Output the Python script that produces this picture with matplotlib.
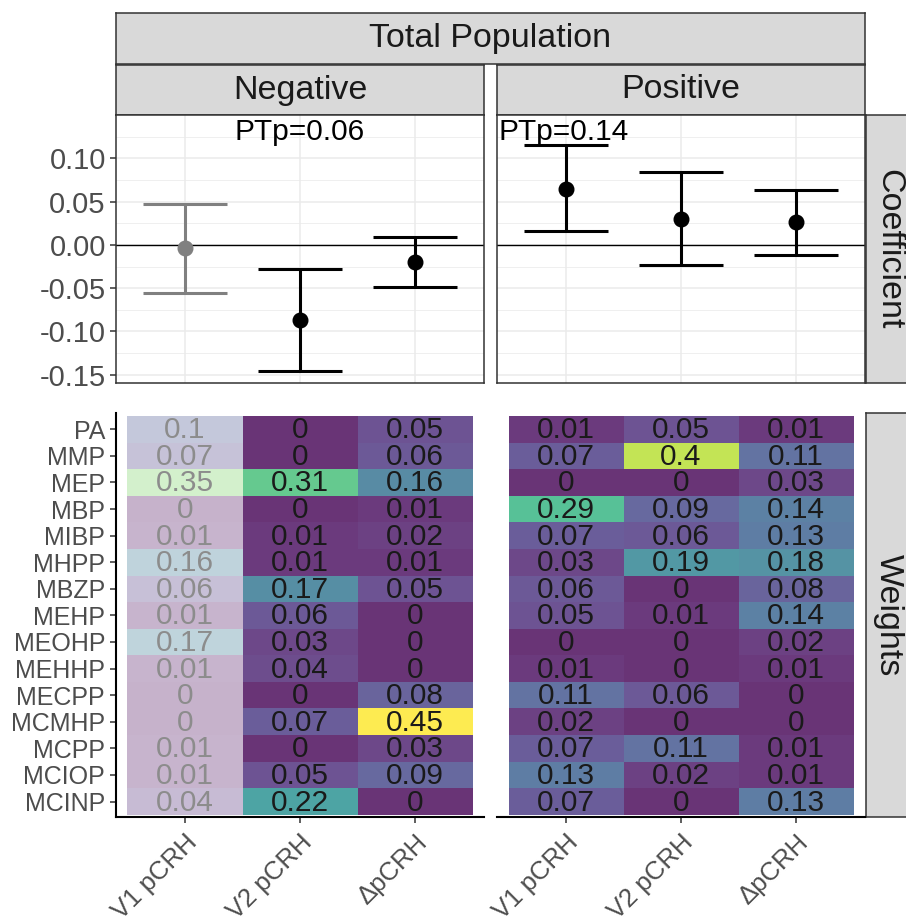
import numpy as np
import matplotlib.pyplot as plt

plt.rcParams['font.family'] = ['Liberation Sans', 'DejaVu Sans']

W, H = 906, 917

exposures = ['V1 pCRH', 'V2 pCRH', '\u0394pCRH']
chemicals = ['PA', 'MMP', 'MEP', 'MBP', 'MIBP', 'MHPP', 'MBZP', 'MEHP',
             'MEOHP', 'MEHHP', 'MECPP', 'MCMHP', 'MCPP', 'MCIOP', 'MCINP']

# coefficient estimates with 95% CI
neg_est = [-0.004, -0.087, -0.020]
neg_lo = [-0.055, -0.146, -0.049]
neg_hi = [0.047, -0.028, 0.009]
neg_sig = [False, True, True]

pos_est = [0.065, 0.030, 0.026]
pos_lo = [0.016, -0.023, -0.0115]
pos_hi = [0.115, 0.084, 0.063]
pos_sig = [True, True, True]

# weights
neg_v1 = [0.1, 0.07, 0.35, 0, 0.01, 0.16, 0.06, 0.01, 0.17, 0.01, 0, 0, 0.01, 0.01, 0.04]
neg_v2 = [0, 0, 0.31, 0, 0.01, 0.01, 0.17, 0.06, 0.03, 0.04, 0, 0.07, 0, 0.05, 0.22]
neg_d = [0.05, 0.06, 0.16, 0.01, 0.02, 0.01, 0.05, 0, 0, 0, 0.08, 0.45, 0.03, 0.09, 0]
pos_v1 = [0.01, 0.07, 0, 0.29, 0.07, 0.03, 0.06, 0.05, 0, 0.01, 0.11, 0.02, 0.07, 0.13, 0.07]
pos_v2 = [0.05, 0.4, 0, 0.09, 0.06, 0.19, 0, 0.01, 0, 0, 0.06, 0, 0.11, 0.02, 0]
pos_d = [0.01, 0.11, 0.03, 0.14, 0.13, 0.18, 0.08, 0.14, 0.02, 0.01, 0, 0, 0.01, 0.01, 0.13]

ptp_neg = 'PTp=0.06'
ptp_pos = 'PTp=0.14'

fig = plt.figure(figsize=(W / 100, H / 100), dpi=100)


def px_axes(x0, y0, x1, y1):
    return fig.add_axes([x0 / W, 1 - y1 / H, (x1 - x0) / W, (y1 - y0) / H])


def strip(x0, y0, x1, y1, label, rot=0):
    ax = px_axes(x0, y0, x1, y1)
    ax.set_facecolor('#d9d9d9')
    ax.set_xticks([])
    ax.set_yticks([])
    for s in ax.spines.values():
        s.set_color('#333333')
        s.set_linewidth(1.1)
    ax.text(0.5, 0.5, label, transform=ax.transAxes, ha='center', va='center',
            fontsize=24.5, color='#1a1a1a', rotation=rot)
    return ax


strip(116, 13, 865, 63.5, 'Total Population')
strip(116, 65, 484, 115, 'Negative')
strip(497, 65, 865, 115, 'Positive')
strip(866, 115, 911, 383, 'Coefficient', rot=-90)
strip(866, 413, 911, 817, 'Weights', rot=-90)

xpos = np.arange(1, 4)


def coef_panel(x0, x1, est, lo, hi, sig, ptp, left):
    ax = px_axes(x0, 115, x1, 383)
    ax.set_xlim(0.4, 3.6)
    ax.set_ylim(-0.1595, 0.150)
    ax.set_yticks([-0.15, -0.10, -0.05, 0.0, 0.05, 0.10])
    ax.set_yticks(np.arange(-0.125, 0.13, 0.05), minor=True)
    ax.set_xticks(xpos)
    ax.set_xticklabels([])
    ax.grid(which='major', color='#ebebeb', lw=1.1)
    ax.grid(which='minor', axis='y', color='#ebebeb', lw=0.55)
    ax.set_axisbelow(True)
    for s in ax.spines.values():
        s.set_color('#333333')
        s.set_linewidth(1.1)
    ax.tick_params(axis='x', length=0)
    ax.tick_params(axis='y', which='minor', length=0)
    if left:
        ax.set_yticklabels(['-0.15', '-0.10', '-0.05', '0.00', '0.05', '0.10'])
        ax.tick_params(axis='y', which='major', length=4.3, width=1.1, color='#333333',
                       labelsize=21, labelcolor='#4d4d4d', pad=3)
    else:
        ax.set_yticklabels([])
        ax.tick_params(axis='y', which='major', length=0)
    ax.axhline(0, color='black', lw=1.0, zorder=2)
    for i in range(3):
        c = 'black' if sig[i] else '#808080'
        ax.errorbar(xpos[i], est[i], yerr=[[est[i] - lo[i]], [hi[i] - est[i]]],
                    fmt='o', color=c, ms=10.5, elinewidth=2.2, capsize=30.5,
                    capthick=2.2, zorder=3)
    if left:
        ax.text(0.5, 0.988, ptp, transform=ax.transAxes, ha='center', va='top',
                fontsize=21.5, color='black')
    else:
        ax.text(0.004, 0.988, ptp, transform=ax.transAxes, ha='left', va='top',
                fontsize=21.5, color='black')
    return ax


coef_panel(116, 484, neg_est, neg_lo, neg_hi, neg_sig, ptp_neg, True)
coef_panel(497, 865, pos_est, pos_lo, pos_hi, pos_sig, ptp_pos, False)

norm = plt.Normalize(0, 0.45)


def weight_panel(x0, x1, cols, sig, left):
    ax = px_axes(x0, 413, x1, 817)
    ax.set_xlim(0.4, 3.6)
    ax.set_ylim(14.5 + 0.08, -0.5 - 0.11)
    n = len(chemicals)
    yedges = np.arange(n + 1) - 0.5
    for j, col in enumerate(cols):
        vals = np.array(col).reshape(-1, 1)
        a = 0.8 if sig[j] else 0.3
        ax.pcolormesh([xpos[j] - 0.5, xpos[j] + 0.5], yedges, vals,
                      cmap='viridis', norm=norm, alpha=a, linewidth=0,
                      edgecolors='face', antialiased=False)
        tc = '#1a1a1a' if sig[j] else '#8c8c8c'
        for i, v in enumerate(col):
            ax.text(xpos[j], i + 0.04, f'{v:g}', ha='center', va='center',
                    fontsize=21.5, color=tc)
    for s in ['top', 'right']:
        ax.spines[s].set_visible(False)
    ax.spines['bottom'].set_color('black')
    ax.spines['bottom'].set_linewidth(1.5)
    ax.set_xticks(xpos)
    ax.set_xticklabels(exposures, rotation=45, ha='right', va='top',
                       rotation_mode='anchor')
    ax.tick_params(axis='x', length=4.3, width=1.1, color='#333333',
                   labelsize=18.5, labelcolor='#4d4d4d', pad=5)
    ax.set_yticks(np.arange(n))
    if left:
        ax.spines['left'].set_color('black')
        ax.spines['left'].set_linewidth(1.5)
        ax.set_yticklabels(chemicals)
        ax.tick_params(axis='y', length=4.3, width=1.1, color='#333333',
                       labelsize=18, labelcolor='#4d4d4d', pad=3.6)
    else:
        ax.spines['left'].set_visible(False)
        ax.set_yticklabels([])
        ax.tick_params(axis='y', length=0)
    return ax


weight_panel(116, 484, [neg_v1, neg_v2, neg_d], neg_sig, True)
weight_panel(497, 865, [pos_v1, pos_v2, pos_d], pos_sig, False)

fig.savefig('out.png', dpi=100)
